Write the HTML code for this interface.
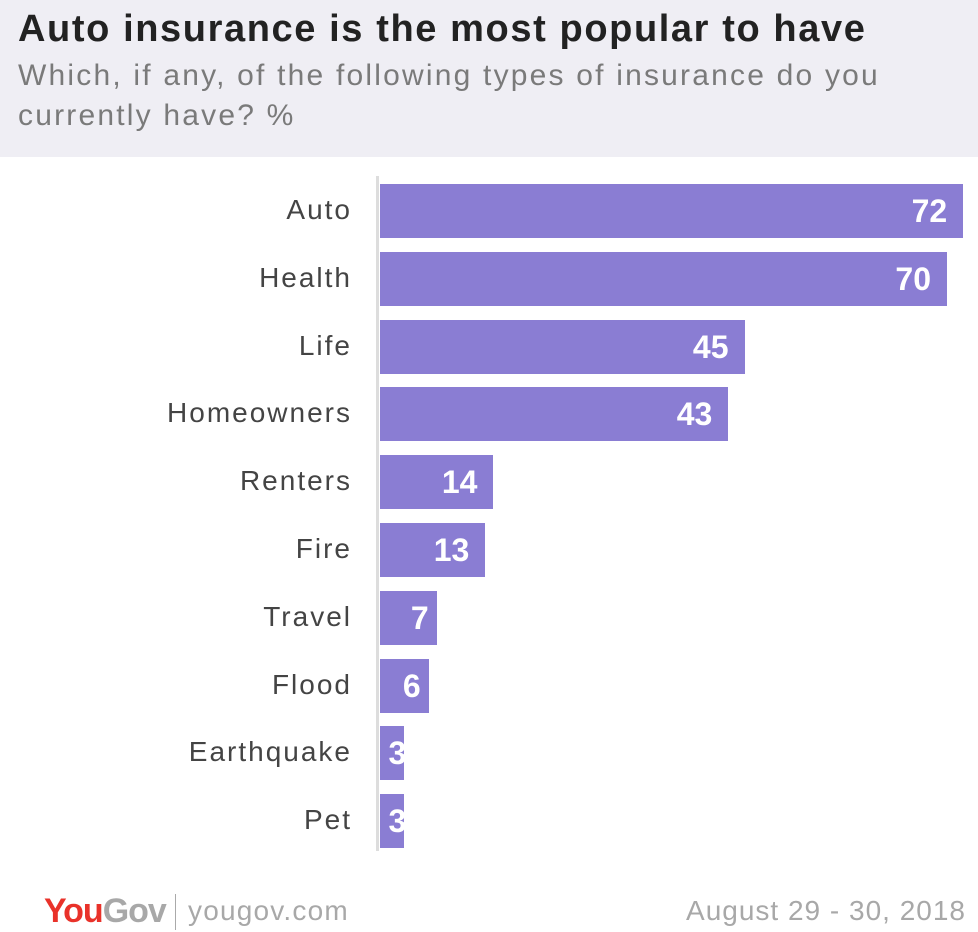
<!DOCTYPE html>
<html><head><meta charset="utf-8"><style>
body{margin:0;width:978px;height:932px;background:#fff;font-family:"Liberation Sans",sans-serif;position:relative;overflow:hidden}
#hdr{position:absolute;left:0;top:0;width:978px;height:157px;background:#efeef4}
.t{position:absolute;left:18px;top:8px;font-size:38px;font-weight:bold;color:#222;letter-spacing:1.6px;white-space:nowrap}
.s{position:absolute;left:18px;top:56px;font-size:30px;color:#7a7a7a;line-height:40px;width:900px;letter-spacing:2.2px}
.lbl{position:absolute;right:626px;font-size:28px;color:#444;text-align:right;white-space:nowrap;letter-spacing:2px}
.bar{position:absolute;left:380px;height:54px;background:#8a7dd3}
.val{position:absolute;font-size:32px;font-weight:bold;color:#fff;text-align:right}
</style></head><body>
<div id="hdr">
<div class="t">Auto insurance is the most popular to have</div>
<div class="s">Which, if any, of the following types of insurance do you<br>currently have? %</div>
</div>
<div style="position:absolute;left:376px;top:176px;width:3px;height:675px;background:#ddd"></div>
<div id="chart"></div>
<div style="position:absolute;left:44px;top:892px;font-size:34px;font-weight:bold;letter-spacing:-1px"><span style="color:#e9322a">You</span><span style="color:#a8a8a8">Gov</span></div>
<div style="position:absolute;left:175px;top:894px;width:1px;height:36px;background:#aaa"></div>
<div style="position:absolute;left:188px;top:895px;font-size:28px;color:#a8a8a8;letter-spacing:1.2px">yougov.com</div>
<div style="position:absolute;right:12px;top:895px;font-size:28px;color:#a8a8a8;letter-spacing:1px">August 29 - 30, 2018</div>
<script>
const categories=["Auto","Health","Life","Homeowners","Renters","Fire","Travel","Flood","Earthquake","Pet"];
const values=[72,70,45,43,14,13,7,6,3,3];
const x0=380, pxPerUnit=8.1, y0=184, step=67.8;
const c=document.getElementById('chart');
categories.forEach((cat,i)=>{
  const y=y0+i*step, w=values[i]*pxPerUnit;
  const l=document.createElement('div');l.className='lbl';l.style.top=(y+10)+'px';l.textContent=cat;
  
  
  c.appendChild(l);
  const b=document.createElement('div');b.className='bar';b.style.top=y+'px';b.style.width=w+'px';
  
  
  c.appendChild(b);
  const v=document.createElement('div');v.className='val';v.style.top=(y+9)+'px';
  v.style.right=(978-(x0+w)+16)+'px';
  if(values[i]<10){v.style.right=(978-(x0+w)+(w>30?8:-2))+'px';}
  v.textContent=values[i];
  
  
  c.appendChild(v);
});
</script>
</body></html>
